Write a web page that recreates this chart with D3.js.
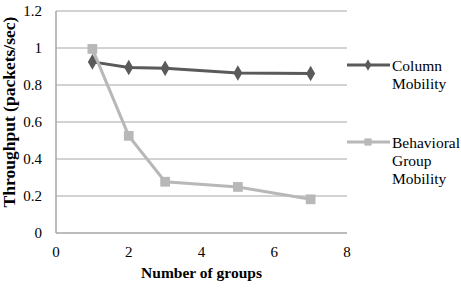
<!DOCTYPE html>
<html>
<head>
<meta charset="utf-8">
<script src="https://cdn.jsdelivr.net/npm/d3@7"></script>
<style>
  body { margin: 0; background: #fff; }
</style>
</head>
<body>
<div id="chart"></div>
<script>
const groups = [1, 2, 3, 5, 7];
const columnMobility = [0.925, 0.895, 0.89, 0.865, 0.862];
const behavioralMobility = [0.995, 0.525, 0.277, 0.249, 0.182];
const xTicks = [0, 2, 4, 6, 8];
const yTicks = [0, 0.2, 0.4, 0.6, 0.8, 1, 1.2];

const width = 461, height = 288;
const margin = { left: 56, right: 114, top: 11, bottom: 55 };
const serif = "'Liberation Serif'";

const svg = d3.select("#chart").append("svg")
  .attr("width", width)
  .attr("height", height)
  .style("font-family", serif);

const x = d3.scaleLinear().domain([0, 8]).range([margin.left, width - margin.right]);
const y = d3.scaleLinear().domain([0, 1.2]).range([height - margin.bottom, margin.top]);

// gridlines
svg.append("g")
  .selectAll("line")
  .data(yTicks.filter(d => d > 0))
  .enter().append("line")
  .attr("x1", x(0)).attr("x2", x(8))
  .attr("y1", d => y(d)).attr("y2", d => y(d))
  .attr("stroke", "#a6a6a6")
  .attr("stroke-width", 1);

// axes lines
svg.append("line")
  .attr("x1", x(0)).attr("x2", x(0))
  .attr("y1", y(0)).attr("y2", y(1.2))
  .attr("stroke", "#a6a6a6").attr("stroke-width", 1.5);
svg.append("line")
  .attr("x1", x(0)).attr("x2", x(8))
  .attr("y1", y(0)).attr("y2", y(0))
  .attr("stroke", "#a6a6a6").attr("stroke-width", 1.5);

// tick labels
svg.append("g")
  .selectAll("text")
  .data(yTicks)
  .enter().append("text")
  .attr("x", x(0) - 14)
  .attr("y", d => y(d))
  .attr("dy", "0.35em")
  .attr("text-anchor", "end")
  .style("font-family", serif)
  .style("font-size", "15px")
  .text(d => d);

svg.append("g")
  .selectAll("text")
  .data(xTicks)
  .enter().append("text")
  .attr("x", d => x(d))
  .attr("y", 257)
  .attr("text-anchor", "middle")
  .style("font-family", serif)
  .style("font-size", "15px")
  .text(d => d);

// axis titles
svg.append("text")
  .attr("x", (x(0) + x(8)) / 2)
  .attr("y", 278)
  .attr("text-anchor", "middle")
  .style("font-family", serif)
  .style("font-size", "15.5px")
  .style("font-weight", "bold")
  .text("Number of groups");

svg.append("text")
  .attr("transform", "translate(15, 112) rotate(-90)")
  .attr("text-anchor", "middle")
  .style("font-family", serif)
  .style("font-size", "17.5px")
  .style("font-weight", "bold")
  .text("Throughput (packets/sec)");

const series = [
  { name: ["Column", "Mobility"], values: columnMobility, color: "#5a5a5a", shape: d3.symbolDiamond, size: 70 },
  { name: ["Behavioral", "Group", "Mobility"], values: behavioralMobility, color: "#b8b8b8", shape: d3.symbolSquare, size: 95 }
];

const line = d3.line().x(d => x(d[0])).y(d => y(d[1]));

series.forEach(s => {
  const pts = groups.map((g, i) => [g, s.values[i]]);
  svg.append("path")
    .datum(pts)
    .attr("d", line)
    .attr("fill", "none")
    .attr("stroke", s.color)
    .attr("stroke-width", 3);
  svg.append("g")
    .selectAll("path")
    .data(pts)
    .enter().append("path")
    .attr("transform", d => `translate(${x(d[0])},${y(d[1])})`)
    .attr("d", d3.symbol().type(s.shape).size(s.size))
    .attr("fill", s.color);
});

// legend
const legendY = [65, 142];
series.forEach((s, i) => {
  const ly = legendY[i];
  svg.append("line")
    .attr("x1", 347).attr("x2", 390)
    .attr("y1", ly).attr("y2", ly)
    .attr("stroke", s.color).attr("stroke-width", 3);
  svg.append("path")
    .attr("transform", `translate(368,${ly})`)
    .attr("d", d3.symbol().type(s.shape).size(s.size * 0.55))
    .attr("fill", s.color);
  s.name.forEach((t, j) => {
    svg.append("text")
      .attr("x", 392)
      .attr("y", ly + 6 + j * 18)
      .style("font-family", serif)
      .style("font-size", "15.5px")
      .text(t);
  });
});
</script>
</body>
</html>
